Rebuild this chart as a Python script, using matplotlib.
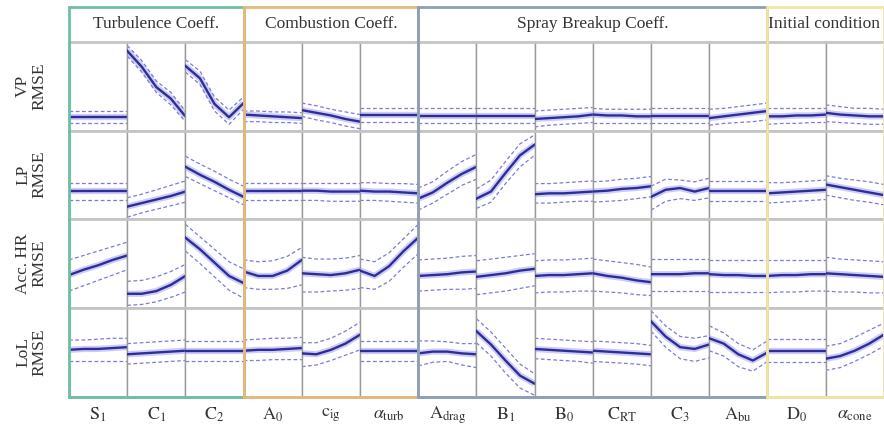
import numpy as np
import matplotlib
matplotlib.use("Agg")
import matplotlib.pyplot as plt
from matplotlib.patches import Rectangle

plt.rcParams['font.family'] = ['Liberation Serif', 'DejaVu Serif']
plt.rcParams['mathtext.fontset'] = 'stix'

# parameter names along the bottom
params = [r'$\mathrm{S}_1$', r'$\mathrm{C}_1$', r'$\mathrm{C}_2$', r'$\mathrm{A}_0$',
          r'$\mathrm{c}_{\mathrm{ig}}$', r'$\alpha_{\mathrm{turb}}$', r'$\mathrm{A}_{\mathrm{drag}}$',
          r'$\mathrm{B}_1$', r'$\mathrm{B}_0$', r'$\mathrm{C}_{\mathrm{RT}}$', r'$\mathrm{C}_3$',
          r'$\mathrm{A}_{\mathrm{bu}}$', r'$\mathrm{D}_0$', r'$\alpha_{\mathrm{cone}}$']
row_labels = ['VP\nRMSE', 'LP\nRMSE', 'Acc. HR\nRMSE', 'LoL\nRMSE']
groups = ['Turbulence Coeff.', 'Combustion Coeff.', 'Spray Breakup Coeff.', 'Initial condition']
group_cols = [(0, 3), (3, 6), (6, 12), (12, 14)]
group_colors = ['#6cc0a0', '#e8b878', '#8aa0b8', '#f0e6a0']

# normalised parameter value (x) and normalised RMSE (y) for each panel
xs = [0.0, 0.25, 0.5, 0.75, 1.0]

vp_mean = [[.15, .15, .15, .15, .15], [.90, .72, .49, .36, .16], [.73, .59, .30, .15, .31],
           [.18, .17, .16, .15, .14], [.23, .20, .17, .13, .10], [.17, .17, .17, .17, .17],
           [.16, .16, .16, .16, .16], [.16, .16, .16, .16, .16], [.13, .14, .15, .16, .18],
           [.18, .17, .17, .16, .16], [.16, .16, .16, .16, .16], [.14, .16, .18, .20, .22],
           [.16, .16, .17, .17, .18], [.20, .18, .17, .16, .16]]
vp_upper = [[.22, .22, .22, .22, .22], [.96, .79, .56, .43, .22], [.80, .67, .38, .23, .38],
            [.22, .22, .21, .21, .20], [.31, .28, .24, .21, .18], [.25, .25, .25, .25, .25],
            [.25, .25, .25, .25, .25], [.25, .25, .25, .25, .25], [.22, .23, .24, .25, .26],
            [.25, .24, .24, .24, .24], [.25, .25, .25, .25, .25], [.24, .25, .27, .29, .31],
            [.25, .25, .25, .25, .25], [.29, .27, .25, .25, .24]]
vp_lower = [[.08, .08, .08, .08, .08], [.84, .66, .43, .29, .10], [.66, .52, .22, .07, .24],
            [.10, .10, .09, .09, .08], [.16, .12, .09, .05, .02], [.10, .10, .10, .10, .10],
            [.08, .08, .08, .08, .08], [.08, .08, .08, .08, .08], [.04, .06, .07, .08, .09],
            [.09, .09, .09, .09, .09], [.08, .08, .08, .08, .08], [.06, .08, .09, .10, .12],
            [.07, .08, .08, .09, .09], [.10, .09, .08, .07, .07]]

lp_mean = [[.32, .32, .32, .32, .32], [.14, .18, .22, .26, .31], [.59, .50, .42, .33, .25],
           [.32, .32, .32, .32, .32], [.32, .32, .31, .31, .31], [.32, .31, .31, .30, .29],
           [.23, .30, .41, .51, .59], [.23, .31, .52, .72, .84], [.28, .29, .29, .30, .31],
           [.31, .32, .34, .35, .37], [.25, .33, .35, .31, .35], [.32, .32, .32, .32, .32],
           [.29, .30, .31, .32, .33], [.39, .36, .33, .30, .27]]
lp_upper = [[.41, .41, .41, .41, .41], [.24, .28, .33, .38, .43], [.71, .62, .54, .45, .37],
            [.41, .41, .41, .41, .41], [.41, .41, .41, .41, .41], [.41, .41, .40, .40, .39],
            [.35, .42, .54, .65, .73], [.34, .44, .65, .85, .95], [.40, .40, .41, .42, .43],
            [.42, .43, .45, .46, .48], [.37, .45, .44, .42, .46], [.43, .43, .43, .43, .43],
            [.41, .41, .42, .43, .44], [.49, .46, .44, .42, .39]]
lp_lower = [[.22, .22, .22, .22, .22], [.02, .07, .11, .15, .19], [.48, .40, .32, .24, .16],
            [.21, .21, .21, .21, .21], [.21, .21, .20, .20, .20], [.21, .21, .20, .19, .18],
            [.10, .18, .28, .38, .45], [.12, .19, .40, .59, .72], [.18, .18, .19, .20, .20],
            [.19, .20, .21, .23, .25], [.10, .20, .23, .21, .24], [.20, .20, .20, .20, .20],
            [.18, .19, .20, .21, .22], [.27, .24, .21, .19, .16]]

hr_mean = [[.37, .43, .48, .54, .59], [.16, .16, .19, .26, .36], [.79, .66, .51, .36, .28],
           [.41, .36, .36, .42, .54], [.39, .38, .37, .39, .43], [.42, .36, .47, .64, .79],
           [.36, .37, .38, .40, .41], [.35, .37, .39, .42, .44], [.36, .37, .37, .38, .39],
           [.39, .36, .34, .31, .29], [.38, .38, .38, .39, .39], [.38, .37, .37, .36, .36],
           [.36, .37, .37, .38, .38], [.39, .38, .37, .36, .35]]
hr_upper = [[.54, .59, .64, .69, .74], [.30, .31, .35, .41, .49], [.94, .80, .66, .52, .44],
            [.54, .52, .53, .58, .68], [.57, .55, .55, .56, .59], [.55, .52, .62, .78, .94],
            [.54, .55, .56, .58, .59], [.53, .55, .57, .59, .61], [.53, .54, .54, .55, .56],
            [.55, .53, .51, .49, .46], [.55, .55, .55, .55, .55], [.54, .54, .54, .54, .54],
            [.54, .54, .54, .54, .54], [.57, .55, .54, .53, .52]]
hr_lower = [[.19, .25, .31, .37, .43], [.03, .04, .07, .12, .18], [.64, .50, .35, .20, .11],
            [.23, .21, .21, .22, .26], [.18, .18, .19, .20, .22], [.23, .21, .30, .46, .61],
            [.19, .20, .21, .21, .22], [.15, .17, .19, .22, .25], [.17, .18, .18, .19, .19],
            [.19, .18, .17, .15, .14], [.19, .19, .19, .19, .19], [.18, .18, .18, .18, .18],
            [.17, .18, .18, .19, .19], [.19, .18, .18, .17, .17]]

lol_mean = [[.53, .54, .54, .55, .56], [.48, .49, .50, .51, .52], [.52, .52, .52, .52, .52],
            [.52, .53, .53, .54, .55], [.49, .48, .53, .60, .70], [.52, .52, .52, .52, .52],
            [.49, .51, .51, .49, .48], [.74, .59, .41, .24, .15], [.54, .53, .52, .51, .50],
            [.52, .51, .50, .49, .48], [.85, .68, .56, .54, .59], [.66, .60, .48, .41, .50],
            [.52, .52, .52, .52, .52], [.43, .46, .52, .60, .70]]
lol_upper = [[.64, .64, .65, .66, .66], [.60, .61, .62, .63, .64], [.63, .63, .63, .63, .63],
             [.64, .65, .66, .66, .67], [.61, .61, .66, .74, .84], [.63, .63, .63, .63, .63],
             [.63, .63, .62, .60, .60], [.88, .73, .55, .37, .26], [.66, .65, .64, .63, .62],
             [.63, .62, .61, .60, .58], [.97, .80, .68, .66, .69], [.80, .72, .60, .53, .63],
             [.65, .65, .65, .65, .65], [.57, .60, .67, .75, .83]]
lol_lower = [[.41, .41, .41, .41, .41], [.37, .38, .39, .40, .41], [.41, .41, .41, .41, .41],
             [.41, .41, .42, .42, .42], [.34, .36, .41, .47, .53], [.41, .41, .41, .41, .41],
             [.35, .39, .40, .36, .33], [.61, .46, .27, .10, .02], [.43, .42, .41, .40, .38],
             [.40, .39, .38, .37, .35], [.74, .56, .43, .40, .44], [.52, .46, .34, .29, .40],
             [.39, .39, .39, .39, .39], [.30, .33, .40, .48, .57]]

rows = [(vp_mean, vp_upper, vp_lower), (lp_mean, lp_upper, lp_lower),
        (hr_mean, hr_upper, hr_lower), (lol_mean, lol_upper, lol_lower)]

W, H = 884, 428
fig = plt.figure(figsize=(W / 100, H / 100), dpi=100)

x0, cw = 69, 58.2
head_top, head_bot = 7, 42
row_edges = [42, 130.5, 219, 308, 397]


def fx(px):
    return px / W


def fy(py):
    return 1 - py / H


for r, (mean, upper, lower) in enumerate(rows):
    top, bot = row_edges[r], row_edges[r + 1]
    for c in range(len(params)):
        ax = fig.add_axes([fx(x0 + c * cw), fy(bot), cw / W, (bot - top) / H])
        ax.plot(xs, mean[c], color='#cdcdf3', lw=4.5, solid_capstyle='butt', zorder=1)
        ax.plot(xs, upper[c], color='#7b7bd8', lw=0.9, dashes=(3, 2), zorder=2)
        ax.plot(xs, lower[c], color='#7b7bd8', lw=0.9, dashes=(3, 2), zorder=2)
        ax.plot(xs, mean[c], color='#2c2c9c', lw=1.7, zorder=3)
        ax.set_xlim(0, 1)
        ax.set_ylim(0, 1)
        ax.set_xticks([])
        ax.set_yticks([])
        for s in ['left', 'right']:
            ax.spines[s].set_color('#9a9a9a')
            ax.spines[s].set_linewidth(1.0)
        for s in ['top', 'bottom']:
            ax.spines[s].set_color('#c4c4c4')
            ax.spines[s].set_linewidth(2.0)
        if r == len(rows) - 1:
            ax.text(0.5, -0.2, params[c], transform=ax.transAxes, ha='center', va='center',
                    fontsize=13, color='#333333')
        if c == 0:
            fig.text(fx(31), fy((top + bot) / 2), row_labels[r], rotation=90, ha='center',
                     va='center', fontsize=12.5, color='#333333', linespacing=1.0)

# header separator
fig.add_artist(plt.Line2D([fx(x0), 1], [fy(head_bot), fy(head_bot)], color='#c8c8c8', lw=1.2))

# group boxes and titles
for name, (c0, c1), col in zip(groups, group_cols, group_colors):
    left = x0 + c0 * cw
    width = (c1 - c0) * cw
    fig.add_artist(Rectangle((fx(left), fy(row_edges[-1])), width / W,
                             (row_edges[-1] - head_top) / H, transform=fig.transFigure,
                             fill=False, edgecolor=col, lw=2, zorder=10))
    if c1 == len(params):
        tx, ha = fx(left + 1), 'left'
    else:
        tx, ha = fx(left + width / 2), 'center'
    fig.text(tx, fy((head_top + head_bot) / 2), name, ha=ha, va='center', fontsize=12.5,
             color='#333333')

fig.savefig('out.png', dpi=100)
